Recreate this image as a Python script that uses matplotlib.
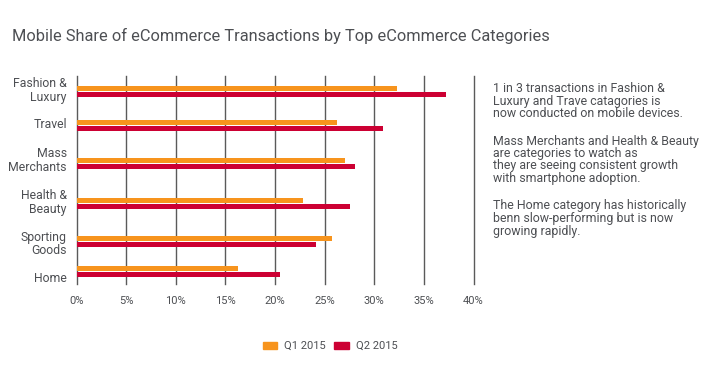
import matplotlib
matplotlib.use("Agg")
import matplotlib.pyplot as plt
from matplotlib.patches import Patch

categories = ["Fashion &\nLuxury", "Travel", "Mass\nMerchants", "Health &\nBeauty", "Sporting\nGoods", "Home"]
q1_2015 = [32.3, 26.2, 27.1, 22.8, 25.7, 16.3]
q2_2015 = [37.2, 30.9, 28.1, 27.6, 24.1, 20.5]
series_names = ["Q1 2015", "Q2 2015"]
x_ticks = [0, 5, 10, 15, 20, 25, 30, 35, 40]
x_tick_labels = ["0%", "5%", "10%", "15%", "20%", "25%", "30%", "35%", "40%"]
title = "Mobile Share of eCommerce Transactions by Top eCommerce Categories"
notes = [
    "1 in 3 transactions in Fashion &\nLuxury and Trave catagories is\nnow conducted on mobile devices.",
    "Mass Merchants and Health & Beauty\nare categories to watch as\nthey are seeing consistent growth\nwith smartphone adoption.",
    "The Home category has historically\nbenn slow-performing but is now\ngrowing rapidly.",
]

# layout (pixel-based positions of category rows)
W, H = 708, 366
row_centers = [91.3, 125.5, 163.7, 203.3, 241.5, 271.5]
label_centers = [88.7, 123.0, 158.7, 200.7, 242.0, 277.0]
bar_h = 5.2
ax_top, ax_bot = 75.7, 284.0
ax_left, ax_right = 76.5, 473.5

plt.rcParams['font.family'] = ['Roboto', 'DejaVu Sans']
text_color = "#4d4f53"
c_q1 = "#F7941D"
c_q2 = "#CC0033"

fig = plt.figure(figsize=(W / 100, H / 100), dpi=100)
ax = fig.add_axes([ax_left / W, 1 - ax_bot / H, (ax_right - ax_left) / W, (ax_bot - ax_top) / H])

ax.set_xlim(0, 40)
ax.set_ylim(ax_bot, ax_top)

q1_y = [c - bar_h / 2 - 0.4 for c in row_centers]
q2_y = [c + bar_h / 2 + 0.4 for c in row_centers]
ax.barh(q1_y, q1_2015, height=bar_h, color=c_q1, zorder=3)
ax.barh(q2_y, q2_2015, height=bar_h, color=c_q2, zorder=3)

ax.set_xticks(x_ticks)
ax.set_xticklabels(x_tick_labels, fontsize=8, color=text_color)
ax.set_yticks(label_centers)
ax.set_yticklabels(categories, fontsize=8.8, color=text_color, linespacing=1.05)
ax.tick_params(axis='both', length=0)
ax.tick_params(axis='x', pad=9)
ax.tick_params(axis='y', pad=7)
for lbl in ax.get_yticklabels():
    lbl.set_horizontalalignment('right')
for s in ax.spines.values():
    s.set_visible(False)
ax.grid(axis='x', color="#5a5a5a", linewidth=1.0, zorder=0)
ax.set_axisbelow(True)
for gl in ax.get_xgridlines():
    gl.set_clip_on(False)

fig.text(12 / W, 1 - 40.7 / H, title, fontsize=11.8, color=text_color, ha='left', va='baseline')

note_baselines = [90.7, 143.0, 208.0]
for t, yb in zip(notes, note_baselines):
    fig.text(493 / W, 1 - (yb - 8.5) / H, t, fontsize=8.9, color=text_color, ha='left', va='top',
             linespacing=0.95)

handles = [Patch(color=c_q1), Patch(color=c_q2)]
leg = fig.legend(handles, series_names, loc='center', bbox_to_anchor=(330 / W, 1 - 346 / H),
                 ncol=2, frameon=False, fontsize=8, handlelength=1.3, handleheight=0.6,
                 handletextpad=0.6, columnspacing=0.8)
for t in leg.get_texts():
    t.set_color(text_color)

fig.savefig("out.png", dpi=100)
